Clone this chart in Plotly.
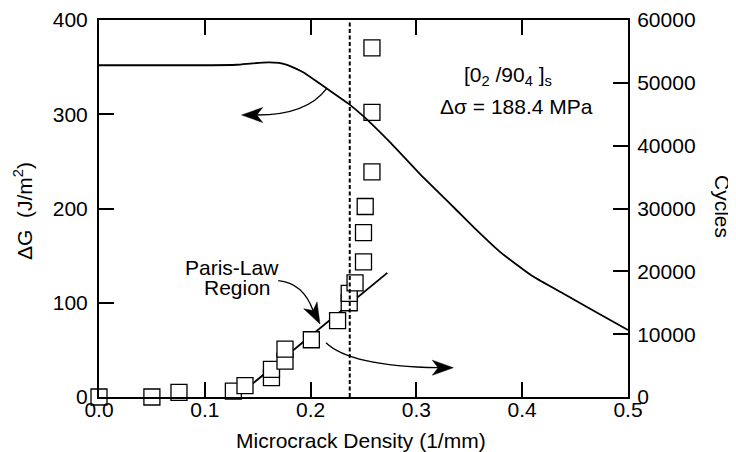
import math
import plotly.graph_objects as go

# ---------------- data ----------------
# Delta G curve (left axis, J/m^2) vs microcrack density (1/mm)
dg_density = [0.0, 0.10, 0.13, 0.145, 0.16, 0.17, 0.177, 0.185, 0.193, 0.209, 0.2183,
              0.236, 0.2498, 0.275, 0.303, 0.335, 0.357, 0.379, 0.41, 0.44, 0.47, 0.50]
dg_values = [352, 352, 352.5, 354, 355, 354.5, 352.7, 349, 344.6, 332.3, 325,
             311, 298, 270.4, 237, 201.6, 177, 154, 128, 109, 90, 71]

# experimental points (right axis, cycles)
pt_density = [0.0, 0.050, 0.0756, 0.127, 0.138, 0.163, 0.163, 0.1758, 0.1758, 0.2007,
              0.2255, 0.2365, 0.2365, 0.242, 0.250, 0.250, 0.2516, 0.258, 0.258, 0.258]
pt_cycles = [0, 0, 750, 950, 1800, 3070, 4400, 5720, 7630, 9110,
             12150, 15000, 16490, 18170, 21510, 26150, 30320, 35820, 45310, 55560]

# Paris-law fit line (right axis)
paris_density = [0.140, 0.2725]
paris_cycles = [1400, 19760]

# dashed vertical marker
dashed_density = 0.237

x_ticks = [0.0, 0.1, 0.2, 0.3, 0.4, 0.5]
left_ticks = [0, 100, 200, 300, 400]
right_ticks = [0, 10000, 20000, 30000, 40000, 50000, 60000]

# ---------------- layout geometry ----------------
W, H = 736, 452
OFF = 8                                # page body margin
PL, PR, PT, PB = 99, 628, 20, 397      # plot area in window pixels
ML, MT = PL - OFF, PT - OFF
MR, MB = W - (PR - OFF), H - (PB - OFF)
PW, PH = PR - PL, PB - PT
FONT = "Liberation Sans, Arial, Helvetica, sans-serif"
FS = 21


def P(px, py):
    """window pixel position -> paper coordinates"""
    return ((px - PL) / PW, (PB - py) / PH)


def arrow(start, ctrl, tip, d, L=21, Wd=7.5):
    n = math.hypot(*d)
    dx, dy = d[0] / n, d[1] / n
    nx, ny = -dy, dx
    tx, ty = tip
    notch = (tx - 0.72 * L * dx, ty - 0.72 * L * dy)
    b1 = (tx - L * dx + Wd * nx, ty - L * dy + Wd * ny)
    b2 = (tx - L * dx - Wd * nx, ty - L * dy - Wd * ny)
    s, c, e = P(*start), P(*ctrl), P(*notch)
    curve = dict(type="path", xref="paper", yref="paper",
                 path=f"M {s[0]},{s[1]} Q {c[0]},{c[1]} {e[0]},{e[1]}",
                 line=dict(color="black", width=1.3))
    pts = [P(*tip), P(*b1), P(*notch), P(*b2)]
    head = dict(type="path", xref="paper", yref="paper",
                path="M " + " L ".join(f"{a},{b}" for a, b in pts) + " Z",
                fillcolor="black", line=dict(color="black", width=0.5))
    return [curve, head]


fig = go.Figure()

fig.add_trace(go.Scatter(x=paris_density, y=paris_cycles, yaxis="y2", mode="lines",
                         line=dict(color="black", width=1.8), showlegend=False))
fig.add_trace(go.Scatter(x=pt_density, y=pt_cycles, yaxis="y2", mode="markers",
                         marker=dict(symbol="square", size=16, color="white",
                                     line=dict(color="black", width=1.3)),
                         cliponaxis=False, showlegend=False))
fig.add_trace(go.Scatter(x=dg_density, y=dg_values, yaxis="y", mode="lines",
                         line=dict(color="black", width=1.8, shape="spline", smoothing=0.5),
                         showlegend=False))

shapes = [dict(type="line", xref="x", yref="paper", x0=dashed_density, x1=dashed_density,
               y0=0, y1=1, line=dict(color="black", width=2, dash="4px,2.5px"))]
shapes += arrow((326.7, 88.3), (307, 115), (241.7, 115), (-1, 0.0))
shapes += arrow((278.3, 280.7), (303, 283), (320, 324), (0.46, 0.89))
shapes += arrow((326, 342.7), (350, 366), (453.3, 367.7), (1, 0.0))

ann = []


def txt(text, px, py, size=FS, angle=0):
    x, y = P(px, py)
    ann.append(dict(text=text, x=x, y=y, xref="paper", yref="paper", showarrow=False,
                    xanchor="center", yanchor="middle", textangle=angle,
                    font=dict(size=size, color="black", family=FONT)))


txt("[0<sub>2</sub> /90<sub>4</sub> ]<sub>s</sub>", 508, 76)
txt("\u0394\u03c3 = 188.4 MPa", 516, 107)
txt("Paris-Law", 232, 267)
txt("Region", 237, 287)
txt("\u0394G\u00a0\u00a0(J/m<sup>2</sup>)", 23, 211, angle=-90)
txt("Cycles", 723, 206, angle=90)
txt("Microcrack Density (1/mm)", 361, 440)

axis_common = dict(showline=True, linecolor="black", linewidth=2, ticks="inside",
                   ticklen=15, tickwidth=2, tickcolor="black", showgrid=False,
                   zeroline=False, tickfont=dict(size=FS, color="black", family=FONT))

fig.update_layout(
    width=W, height=H, margin=dict(l=ML, r=MR, t=MT, b=MB, autoexpand=False),
    paper_bgcolor="white", plot_bgcolor="white",
    font=dict(family=FONT, size=FS, color="black"),
    xaxis=dict(range=[0, 0.5], tickvals=x_ticks, tickformat=".1f", mirror="ticks",
               anchor="y", ticklabelstandoff=-7, **axis_common),
    yaxis=dict(range=[0, 400], tickvals=left_ticks, side="left", overlaying="y2",
               anchor="x", ticklabelstandoff=5, **axis_common),
    yaxis2=dict(range=[0, 60000], tickvals=right_ticks, tickformat="d", side="right",
                anchor="x", ticklabelstandoff=3, **axis_common),
    shapes=shapes, annotations=ann, showlegend=False,
)

fig.write_html("out.html")
